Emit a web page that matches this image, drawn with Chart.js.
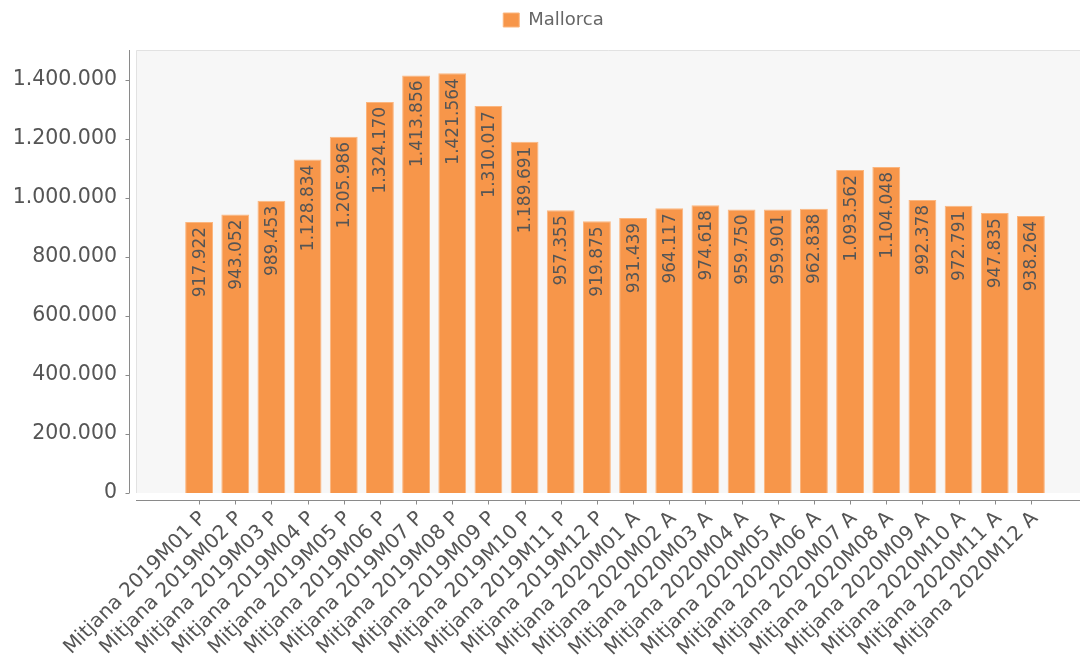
<!DOCTYPE html>
<html>
<head>
<meta charset="utf-8">
<script src="https://cdn.jsdelivr.net/npm/chart.js@4.4.1/dist/chart.umd.min.js"></script>
<style>
  html, body { margin: 0; padding: 0; background: #ffffff; }
  #wrap { width: 1080px; height: 668px; position: relative; }
</style>
</head>
<body>
<div id="wrap"><canvas id="grafico"></canvas></div>
<script>
// Dades
var categories = [
    'Mitjana 2019M01 P', 'Mitjana 2019M02 P', 'Mitjana 2019M03 P', 'Mitjana 2019M04 P',
    'Mitjana 2019M05 P', 'Mitjana 2019M06 P', 'Mitjana 2019M07 P', 'Mitjana 2019M08 P',
    'Mitjana 2019M09 P', 'Mitjana 2019M10 P', 'Mitjana 2019M11 P', 'Mitjana 2019M12 P',
    'Mitjana 2020M01 A', 'Mitjana 2020M02 A', 'Mitjana 2020M03 A', 'Mitjana 2020M04 A',
    'Mitjana 2020M05 A', 'Mitjana 2020M06 A', 'Mitjana 2020M07 A', 'Mitjana 2020M08 A',
    'Mitjana 2020M09 A', 'Mitjana 2020M10 A', 'Mitjana 2020M11 A', 'Mitjana 2020M12 A'
];
var mallorca = [
    917922, 943052, 989453, 1128834, 1205986, 1324170, 1413856, 1421564, 1310017, 1189691, 957355, 919875,
    931439, 964117, 974618, 959750, 959901, 962838, 1093562, 1104048, 992378, 972791, 947835, 938264
];
var yTicks = [0, 200000, 400000, 600000, 800000, 1000000, 1200000, 1400000];
var yMax = 1500000;

var TEXT = '#555555';
var FONT = '"DejaVu Sans", Verdana, sans-serif';

function formatar(n) {
    return String(n).replace(/\B(?=(\d{3})+(?!\d))/g, '.');
}

// Fons de la zona de dibuix i eixos separats
var fonsEixos = {
    id: 'fonsEixos',
    beforeDraw: function (chart) {
        var c = chart.ctx, a = chart.chartArea;
        var esq = a.left - 45, dre = chart.width;
        c.save();
        c.fillStyle = '#f7f7f7';
        c.fillRect(esq, a.top, dre - esq, a.bottom - a.top);
        c.strokeStyle = '#e2e2e2';
        c.lineWidth = 1;
        c.beginPath();
        c.moveTo(esq + 0.5, a.bottom);
        c.lineTo(esq + 0.5, a.top + 0.5);
        c.lineTo(dre, a.top + 0.5);
        c.stroke();
        c.restore();
    },
    afterDraw: function (chart) {
        var c = chart.ctx, a = chart.chartArea;
        var y = chart.scales.y, x = chart.scales.x;
        var esq = a.left - 45;
        var axX = esq - 6.5;
        var axY = a.bottom + 7.5;
        c.save();
        c.strokeStyle = '#8a8a8a';
        c.lineWidth = 1;
        c.beginPath();
        c.moveTo(axX, a.top);
        c.lineTo(axX, a.bottom);
        yTicks.forEach(function (v) {
            var py = Math.round(y.getPixelForValue(v)) + 0.5;
            c.moveTo(axX - 4, py);
            c.lineTo(axX, py);
        });
        c.moveTo(esq, axY);
        c.lineTo(chart.width, axY);
        categories.forEach(function (l, i) {
            var px = Math.round(x.getPixelForValue(i)) + 0.5;
            c.moveTo(px, axY);
            c.lineTo(px, axY + 4);
        });
        c.stroke();
        c.restore();
    },
    afterDatasetsDraw: function (chart) {
        var c = chart.ctx;
        var meta = chart.getDatasetMeta(0);
        c.save();
        c.fillStyle = TEXT;
        c.font = '17px ' + FONT;
        c.textAlign = 'right';
        c.textBaseline = 'middle';
        meta.data.forEach(function (bar, i) {
            c.save();
            c.translate(bar.x, bar.y + 5);
            c.rotate(-Math.PI / 2);
            c.fillText(formatar(mallorca[i]), 0, 1);
            c.restore();
        });
        c.restore();
    }
};

// escales buides que només reserven espai
var buida = {
    display: true,
    border: { display: false },
    grid: { display: false, drawTicks: false },
    ticks: { display: false }
};

document.addEventListener('DOMContentLoaded', function () {
    var ctx = document.getElementById('grafico').getContext('2d');

    new Chart(ctx, {
        type: 'bar',
        data: {
            labels: categories,
            datasets: [{
                label: 'Mallorca',
                data: mallorca,
                xAxisID: 'x',
                yAxisID: 'y',
                backgroundColor: '#f7964a',
                borderColor: '#fbb67f',
                borderWidth: 1,
                barPercentage: 0.77,
                categoryPercentage: 1
            }]
        },
        options: {
            responsive: true,
            maintainAspectRatio: false,
            animation: false,
            layout: { padding: { left: 0, right: -27, top: 0, bottom: 0 } },
            plugins: {
                legend: {
                    position: 'top',
                    labels: {
                        boxWidth: 16,
                        boxHeight: 14,
                        padding: 11,
                        color: '#666666',
                        font: { family: FONT, size: 18 }
                    }
                },
                tooltip: { enabled: false }
            },
            scales: {
                x: {
                    offset: true,
                    border: { display: false },
                    grid: { display: false, drawTicks: false },
                    ticks: {
                        autoSkip: false,
                        maxRotation: 45,
                        minRotation: 45,
                        padding: 14,
                        labelOffset: 4,
                        color: TEXT,
                        font: { family: FONT, size: 20 }
                    },
                    afterFit: function (s) { s.height = 175; }
                },
                dalt: Object.assign({ type: 'category', axis: 'x', position: 'top',
                    afterFit: function (s) { s.height = 11; } }, buida),
                y: {
                    min: 0,
                    max: yMax,
                    border: { display: false },
                    grid: { display: false, drawTicks: true, tickLength: 60 },
                    afterBuildTicks: function (s) {
                        s.ticks = yTicks.map(function (v) { return { value: v }; });
                    },
                    ticks: {
                        padding: 4,
                        color: TEXT,
                        font: { family: FONT, size: 20.5 },
                        callback: function (v) { return formatar(v); }
                    },
                    afterFit: function (s) { s.width = 181; }
                },
                dreta: Object.assign({ axis: 'y', position: 'right',
                    afterFit: function (s) { s.width = 58; } }, buida)
            }
        },
        plugins: [fonsEixos]
    });
});
</script>
</body>
</html>
